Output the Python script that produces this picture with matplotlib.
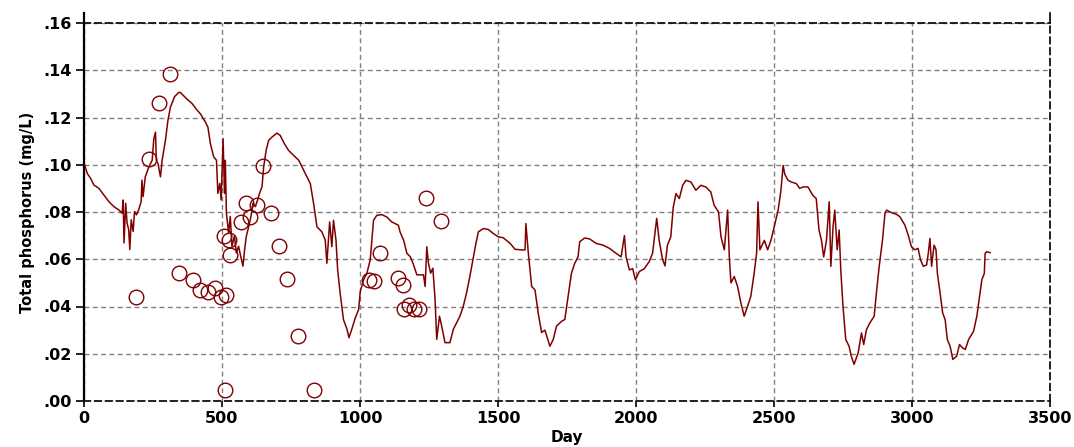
import numpy as np
import matplotlib
matplotlib.use("Agg")
import matplotlib.pyplot as plt
from matplotlib.lines import Line2D

# simulated total phosphorus
sim_day = [0, 2, 12, 24, 36, 54, 72, 90, 108, 126, 138, 142, 145, 151, 156, 162, 166, 171, 178,
           183, 190, 198, 207, 210, 214, 222, 235, 247, 253, 259, 262, 268, 277, 283, 295, 304,
           313, 328, 343, 349, 361, 373, 391, 409, 422, 440, 449, 458, 470, 480, 485, 492, 497,
           504, 509, 512, 516, 524, 530, 536, 545, 552, 560, 569, 576, 582, 588, 597, 605, 612,
           621, 629, 636, 645, 651, 660, 669, 681, 699, 711, 726, 741, 759, 778, 790, 808, 820,
           832, 844, 862, 874, 880, 890, 898, 904, 913, 919, 928, 940, 953, 960, 970, 983, 995,
           1001, 1013, 1025, 1037, 1049, 1061, 1079, 1097, 1115, 1139, 1145, 1158, 1170, 1182,
           1192, 1206, 1230, 1236, 1242, 1248, 1256, 1264, 1272, 1278, 1288, 1296, 1308, 1326,
           1338, 1350, 1362, 1374, 1386, 1398, 1411, 1420, 1429, 1447, 1465, 1483, 1501, 1519,
           1544, 1562, 1592, 1598, 1601, 1610, 1622, 1634, 1646, 1658, 1670, 1688, 1700, 1712,
           1730, 1742, 1754, 1766, 1778, 1790, 1796, 1814, 1832, 1856, 1880, 1904, 1928, 1946,
           1958, 1964, 1976, 1988, 1998, 2012, 2030, 2048, 2060, 2075, 2084, 2096, 2105, 2114,
           2126, 2135, 2145, 2157, 2169, 2181, 2199, 2217, 2235, 2253, 2271, 2283, 2299, 2308,
           2320, 2332, 2338, 2344, 2356, 2368, 2380, 2392, 2404, 2416, 2428, 2437, 2442, 2449,
           2465, 2477, 2489, 2503, 2515, 2525, 2533, 2539, 2551, 2563, 2581, 2593, 2605, 2623,
           2641, 2653, 2663, 2672, 2680, 2690, 2700, 2706, 2714, 2720, 2729, 2736, 2742, 2750,
           2760, 2772, 2780, 2790, 2805, 2817, 2825, 2835, 2847, 2863, 2871, 2881, 2893, 2902,
           2908, 2926, 2944, 2956, 2974, 2986, 2998, 3010, 3022, 3031, 3041, 3053, 3059, 3065,
           3071, 3080, 3087, 3092, 3101, 3111, 3120, 3128, 3138, 3148, 3162, 3172, 3183, 3193,
           3205, 3223, 3235, 3245, 3253, 3262, 3265, 3271, 3283]
sim_tp = [.100, .100, .0963, .0942, .0914, .0900, .0872, .0844, .0823, .0809, .0795, .0851, .0669,
          .0837, .0753, .0725, .0641, .0767, .0718, .0802, .0788, .0809, .0844, .0935, .0865,
          .0949, .0991, .1019, .1110, .1138, .1019, .1005, .0949, .1019, .1103, .1187, .1243,
          .1288, .1306, .1306, .1292, .1278, .1260, .1232, .1215, .1180, .1159, .1089, .1033,
          .1019, .0879, .0921, .0851, .1110, .0879, .1019, .0795, .0711, .0781, .0655, .0697,
          .0627, .0655, .0606, .0571, .0641, .0697, .0739, .0781, .0837, .0823, .0851, .0879,
          .0907, .0991, .1061, .1103, .1117, .1134, .1124, .1089, .1061, .1040, .1019, .0991,
          .0949, .0920, .0835, .0737, .0716, .0681, .0583, .0758, .0653, .0765, .0681, .0555,
          .0457, .0345, .0303, .0268, .0303, .0352, .0387, .0464, .0513, .0541, .0597, .0765,
          .0786, .0789, .0779, .0758, .0744, .0716, .0681, .0625, .0611, .0583, .0534, .0534,
          .0485, .0653, .0583, .0541, .0562, .0429, .0261, .0359, .0317, .0247, .0247, .0303,
          .0331, .0359, .0400, .0457, .0527, .0611, .0667, .0716, .0730, .0726, .0709, .0695,
          .0691, .0667, .0642, .0639, .0640, .0751, .0625, .0485, .0470, .0370, .0290, .0300,
          .0232, .0260, .0317, .0337, .0345, .0443, .0540, .0583, .0610, .0674, .0690, .0686,
          .0667, .0660, .0646, .0625, .0610, .0700, .0610, .0555, .0560, .0513, .0548, .0560,
          .0590, .0625, .0773, .0680, .0600, .0572, .0660, .0695, .0820, .0878, .0857, .0913,
          .0934, .0927, .0892, .0913, .0906, .0885, .0829, .0800, .0695, .0640, .0808, .0611,
          .0500, .0527, .0485, .0415, .0359, .0400, .0443, .0540, .0625, .0843, .0640, .0680,
          .0640, .0680, .0750, .0808, .0890, .0997, .0960, .0934, .0927, .0920, .0900, .0906,
          .0906, .0870, .0857, .0724, .0680, .0610, .0680, .0843, .0570, .0738, .0808, .0640,
          .0724, .0555, .0400, .0260, .0232, .0190, .0155, .0204, .0288, .0239, .0302, .0330,
          .0359, .0457, .0569, .0680, .0794, .0808, .0797, .0790, .0780, .0745, .0703, .0653,
          .0640, .0646, .0597, .0570, .0576, .0625, .0688, .0570, .0660, .0640, .0540, .0464,
          .0373, .0345, .0260, .0232, .0176, .0190, .0239, .0225, .0218, .0260, .0295, .0359,
          .0443, .0513, .0540, .0625, .0632, .0628]

# observed samples (open circles)
obs_day = [190, 235, 273, 311, 343, 394, 422, 450, 474, 498, 515, 512, 509, 524, 530, 570, 587,
           603, 627, 648, 679, 708, 735, 775, 834, 1034, 1052, 1073, 1136, 1157, 1160, 1176,
           1195, 1213, 1240, 1294]
obs_tp = [.0442, .1023, .1263, .1383, .0540, .0512, .0470, .0460, .0480, .0440, .0450, .0047,
          .0700, .0680, .0620, .0756, .0837, .0780, .0830, .0995, .0797, .0656, .0516, .0277,
          .0047, .0512, .0510, .0628, .0520, .0490, .0390, .0406, .0390, .0388, .0860, .0760]

color = "#800000"
dash = (0, (3.5, 2.5))

fig = plt.figure(figsize=(10.74, 4.47), dpi=100)
ax = fig.add_axes([84 / 1074, 1 - 401 / 447, 966 / 1074, 378 / 447])

ax.plot(sim_day, sim_tp, color=color, linewidth=1.1, zorder=3)
ax.plot(obs_day, obs_tp, linestyle="none", marker="o", markersize=10.5,
        markerfacecolor="none", markeredgecolor=color, markeredgewidth=1.0, zorder=4)

ax.set_xlim(0, 3500)
ax.set_ylim(0, 0.16)
ax.set_xticks(np.arange(0, 3501, 500))
yt = np.arange(0, 0.161, 0.02)
ax.set_yticks(yt)
ax.set_yticklabels(["." + f"{v:.2f}".split(".")[1] for v in yt])

ax.grid(True, color="#808080", linestyle=dash, linewidth=1.0)
ax.set_axisbelow(True)

ax.spines["left"].set_linewidth(1.6)
ax.spines["left"].set_color("black")
for s in ["top", "right", "bottom"]:
    ax.spines[s].set_linestyle(dash)
    ax.spines[s].set_color("#101010")
    ax.spines[s].set_linewidth(1.3)

# axis lines poke out a little above the frame
ax.add_line(Line2D([0, 0], [1, 1.027], transform=ax.transAxes, color="black",
                   linewidth=1.6, clip_on=False))
ax.add_line(Line2D([1, 1], [1, 1.027], transform=ax.transAxes, color="black",
                   linewidth=1.2, clip_on=False))

ax.tick_params(axis="y", direction="out", length=6, width=1.2, labelsize=11.5, pad=3)
ax.tick_params(axis="x", direction="out", length=4, width=1.2, labelsize=11.5, pad=3)
for lab in ax.get_xticklabels() + ax.get_yticklabels():
    lab.set_fontweight("bold")

ax.set_xlabel("Day", fontsize=11, fontweight="bold", labelpad=3)
ax.set_ylabel("Total phosphorus (mg/L)", fontsize=10.5, fontweight="bold", labelpad=6)

fig.savefig("out.png", dpi=100)
